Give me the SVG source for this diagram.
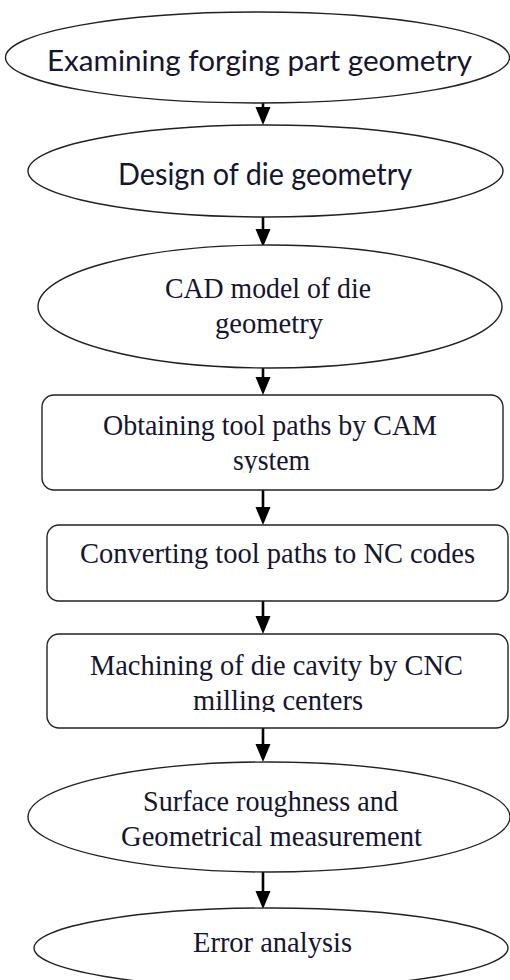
<svg xmlns="http://www.w3.org/2000/svg" width="510" height="980" viewBox="0 0 510 980">
<style>
.shape{fill:#fff;stroke:#222;stroke-width:1.4}
.sans{font-family:Lato,"Open Sans","Liberation Sans",sans-serif;fill:#151530}
.serif{font-family:"Liberation Serif","Times New Roman",serif;font-size:30px;fill:#151530}
.conn{stroke:#000;stroke-width:2.6;fill:none}
</style>
<defs>
<marker id="ah" markerUnits="userSpaceOnUse" markerWidth="18" markerHeight="16" viewBox="0 0 18 16" refX="8" refY="8" orient="auto">
<path d="M0,0.5 L18,8 L0,15.5 z" fill="#000"/>
</marker>
<clipPath id="c4"><rect x="40" y="395" width="470" height="78"/></clipPath>
<clipPath id="c6"><rect x="40" y="634" width="470" height="78"/></clipPath>
</defs>
<rect width="510" height="980" fill="#fff"/>
<g id="connectors">
<line class="conn" x1="263" y1="103" x2="263" y2="115" marker-end="url(#ah)"/>
<line class="conn" x1="263" y1="217" x2="263" y2="237" marker-end="url(#ah)"/>
<line class="conn" x1="263" y1="368" x2="263" y2="385" marker-end="url(#ah)"/>
<line class="conn" x1="263" y1="490" x2="263" y2="515" marker-end="url(#ah)"/>
<line class="conn" x1="263" y1="601" x2="263" y2="624" marker-end="url(#ah)"/>
<line class="conn" x1="263" y1="728" x2="263" y2="752" marker-end="url(#ah)"/>
<line class="conn" x1="263" y1="872" x2="263" y2="899" marker-end="url(#ah)"/>
</g>
<g id="n1">
<ellipse class="shape" cx="257.5" cy="57.5" rx="252" ry="45.5"/>
<text class="sans" x="259.5" y="71" font-size="28" text-anchor="middle" textLength="425" lengthAdjust="spacingAndGlyphs">Examining forging part geometry</text>
</g>
<g id="n2">
<ellipse class="shape" cx="265.5" cy="171" rx="237.5" ry="46"/>
<text class="sans" x="265" y="185" font-size="31" text-anchor="middle" textLength="294" lengthAdjust="spacingAndGlyphs">Design of die geometry</text>
</g>
<g id="n3">
<ellipse class="shape" cx="270" cy="306.5" rx="232" ry="61.5"/>
<text class="serif" x="268" y="298" text-anchor="middle" textLength="206" lengthAdjust="spacingAndGlyphs">CAD model of die</text>
<text class="serif" x="269" y="333" text-anchor="middle" textLength="108" lengthAdjust="spacingAndGlyphs">geometry</text>
</g>
<g id="n4">
<rect class="shape" x="42" y="395" width="461" height="95" rx="12" ry="12"/>
<text class="serif" x="270" y="435" text-anchor="middle" textLength="334" lengthAdjust="spacingAndGlyphs">Obtaining tool paths by CAM</text>
<text class="serif" x="271.5" y="470" text-anchor="middle" textLength="77" lengthAdjust="spacingAndGlyphs" clip-path="url(#c4)">system</text>
</g>
<g id="n5">
<rect class="shape" x="47" y="525" width="461" height="76" rx="12" ry="12"/>
<text class="serif" x="277.5" y="563" text-anchor="middle" textLength="395" lengthAdjust="spacingAndGlyphs">Converting tool paths to NC codes</text>
</g>
<g id="n6">
<rect class="shape" x="47" y="634" width="461" height="94" rx="12" ry="12"/>
<text class="serif" x="276.5" y="675" text-anchor="middle" textLength="373" lengthAdjust="spacingAndGlyphs">Machining of die cavity by CNC</text>
<text class="serif" x="278" y="710" text-anchor="middle" textLength="170" lengthAdjust="spacingAndGlyphs" clip-path="url(#c6)">milling centers</text>
</g>
<g id="n7">
<ellipse class="shape" cx="269" cy="817" rx="241" ry="55"/>
<text class="serif" x="270.5" y="811" text-anchor="middle" textLength="255" lengthAdjust="spacingAndGlyphs">Surface roughness and</text>
<text class="serif" x="271.5" y="846" text-anchor="middle" textLength="301" lengthAdjust="spacingAndGlyphs">Geometrical measurement</text>
</g>
<g id="n8">
<ellipse class="shape" cx="271" cy="948" rx="237" ry="40"/>
<text class="serif" x="272.5" y="952" text-anchor="middle" textLength="159" lengthAdjust="spacingAndGlyphs">Error analysis</text>
</g>
</svg>
